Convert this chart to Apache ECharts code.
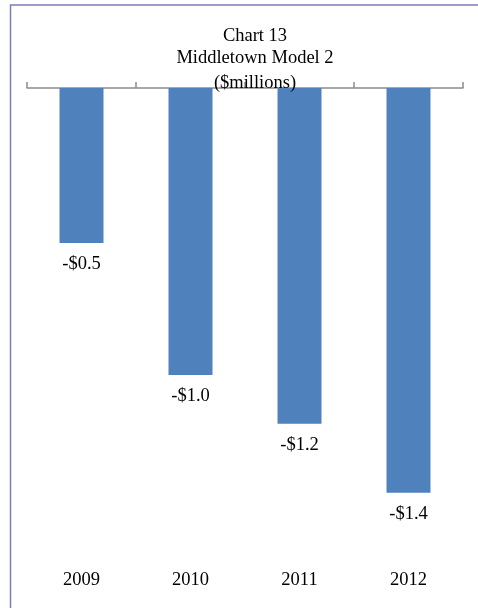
<!DOCTYPE html>
<html>
<head>
<meta charset="utf-8">
<script src="https://cdn.jsdelivr.net/npm/echarts@6/dist/echarts.min.js"></script>
<style>
html,body{margin:0;padding:0;background:#fff;}
#chart{width:478px;height:608px;}
</style>
</head>
<body>
<div id="chart"></div>
<script>
var categories = ['2009', '2010', '2011', '2012'];
var values = [-0.54, -1.0, -1.17, -1.41];
var titleLines = ['Chart 13', 'Middletown Model 2', '($millions)'];

var FONT = '"Liberation Serif", "Times New Roman", serif';
var chart = echarts.init(document.getElementById('chart'));
var titleTops = [26.5, 48.5, 73.5];
chart.setOption({
  animation: false,
  backgroundColor: '#fff',
  title: titleLines.map(function (t, i) {
    return {
      text: t,
      left: 255,
      top: titleTops[i],
      textAlign: 'center',
      padding: 0,
      textStyle: { fontFamily: FONT, fontSize: 18.5, fontWeight: 'normal', color: '#000' }
    };
  }),
  graphic: [{
    type: 'rect',
    shape: { x: 10.5, y: 5, width: 600, height: 800 },
    style: { fill: null, stroke: '#7c7cbc', lineWidth: 1.5 },
    silent: true
  }],
  grid: { left: 27, right: 15, top: 88, bottom: 89.5 },
  xAxis: [{
    type: 'category',
    data: categories,
    position: 'bottom',
    axisLine: { show: false },
    axisTick: { show: false },
    axisLabel: { margin: 52, color: '#000', fontFamily: FONT, fontSize: 18.5 }
  }, {
    type: 'category',
    data: categories,
    position: 'top',
    axisLine: { show: true, onZero: false, lineStyle: { color: '#8c8c8c', width: 1.5 } },
    axisTick: { show: true, length: 6, lineStyle: { color: '#8c8c8c', width: 1.5 } },
    axisLabel: { show: false }
  }],
  yAxis: {
    type: 'value',
    min: -1.5,
    max: 0,
    show: false,
    splitLine: { show: false }
  },
  series: [{
    type: 'bar',
    data: values,
    barWidth: 44,
    itemStyle: { color: '#4f81bd' },
    label: {
      show: true,
      position: 'bottom',
      distance: 11.5,
      color: '#000',
      fontFamily: FONT,
      fontSize: 18.5,
      formatter: function (p) { return '-$' + Math.abs(p.value).toFixed(1); }
    }
  }]
});
</script>
</body>
</html>
